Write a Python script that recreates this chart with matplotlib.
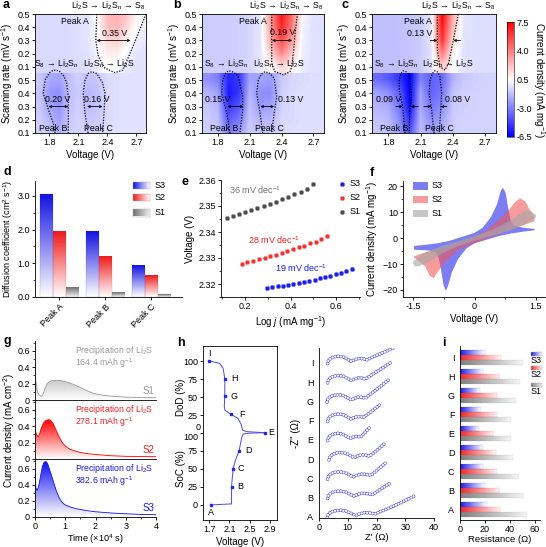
import numpy as np
import matplotlib
matplotlib.use('Agg')
import matplotlib.pyplot as plt
from matplotlib.colors import LinearSegmentedColormap
from matplotlib.patches import Polygon, Rectangle
from matplotlib.lines import Line2D
from matplotlib.ticker import MultipleLocator

plt.rcParams['font.family'] = ['Liberation Sans', 'DejaVu Sans']
plt.rcParams['mathtext.fontset'] = 'custom'
plt.rcParams['mathtext.rm'] = 'Liberation Sans'
plt.rcParams['mathtext.it'] = 'Liberation Sans:italic'
plt.rcParams['mathtext.bf'] = 'Liberation Sans:bold'
plt.rcParams['font.size'] = 6.5
plt.rcParams['axes.linewidth'] = 0.6
for k in ['xtick', 'ytick']:
    plt.rcParams[k + '.major.width'] = 0.6
    plt.rcParams[k + '.minor.width'] = 0.5
    plt.rcParams[k + '.major.size'] = 2.2
    plt.rcParams[k + '.minor.size'] = 1.3
    plt.rcParams[k + '.major.pad'] = 1.5
    plt.rcParams[k + '.labelsize'] = 6.5
plt.rcParams['axes.labelsize'] = 7
plt.rcParams['axes.labelpad'] = 2

W, H = 546, 547
BLUE = '#1c1ce8'
RED = '#f02020'
GRAY = '#8a8a8a'

LI2S = r'Li$\mathregular{_2}$S'
LI2SN = r'Li$\mathregular{_2}$S$\mathregular{_n}$'
S8 = r'S$\mathregular{_8}$'
INV = r'$\mathregular{^{-1}}$'

# a-c : current density maps, rows = 0.5..0.1 (anodic) then 0.5..0.1 (cathodic)
map_volt = [1.7, 1.8, 1.9, 2.0, 2.1, 2.2, 2.3, 2.4, 2.5, 2.6, 2.7, 2.8]
rate_labels = ['0.5', '0.4', '0.3', '0.2', '0.1'] * 2

a_top = [[-0.5, -0.5, -0.5, -0.5, -0.4, -0.2, 0.6, 2.4, 2.8, 2.2, 1.0, 0.3],
         [-0.5, -0.5, -0.5, -0.5, -0.4, -0.2, 0.5, 2.2, 2.5, 1.6, 0.5, 0.0],
         [-0.5, -0.5, -0.5, -0.5, -0.4, -0.2, 0.4, 1.6, 1.8, 0.9, 0.1, -0.2],
         [-0.5, -0.5, -0.5, -0.5, -0.4, -0.3, 0.2, 1.0, 1.0, 0.3, -0.2, -0.3],
         [-0.6, -0.6, -0.6, -0.6, -0.5, -0.4, 0.0, 0.5, 0.4, -0.1, -0.3, -0.3]]
a_bot = [[-1.0, -1.8, -2.0, -1.2, -0.8, -1.2, -1.0, -0.5, -0.4, -0.3, -0.3, -0.3],
         [-1.1, -2.3, -2.6, -1.3, -0.9, -1.5, -1.2, -0.5, -0.4, -0.3, -0.3, -0.3],
         [-1.0, -2.0, -2.5, -1.2, -0.8, -1.3, -1.1, -0.5, -0.4, -0.3, -0.3, -0.3],
         [-0.8, -1.5, -2.1, -1.0, -0.7, -1.0, -0.9, -0.5, -0.4, -0.3, -0.3, -0.3],
         [-0.7, -1.0, -1.6, -0.9, -0.6, -0.8, -0.7, -0.4, -0.3, -0.3, -0.3, -0.3]]
b_top = [[-0.9, -0.9, -0.9, -0.8, -0.6, -0.2, 3.5, 7.0, 4.5, 0.3, -0.3, -0.4],
         [-0.9, -0.9, -0.9, -0.8, -0.6, -0.2, 3.2, 6.5, 4.0, 0.2, -0.3, -0.4],
         [-0.9, -0.9, -0.9, -0.8, -0.6, -0.2, 2.8, 5.5, 3.2, 0.1, -0.3, -0.4],
         [-0.9, -0.9, -0.9, -0.8, -0.6, -0.2, 1.8, 3.8, 2.0, 0.0, -0.3, -0.4],
         [-0.9, -0.9, -0.9, -0.8, -0.6, -0.2, 0.6, 1.5, 0.9, -0.1, -0.3, -0.4]]
b_bot = [[-2.5, -3.0, -5.5, -5.0, -2.0, -2.0, -2.2, -1.0, -0.6, -0.5, -0.4, -0.4],
         [-1.5, -2.0, -5.8, -5.0, -1.5, -2.6, -2.6, -0.8, -0.5, -0.4, -0.4, -0.4],
         [-1.0, -1.5, -5.0, -4.2, -1.2, -2.3, -2.1, -0.7, -0.5, -0.4, -0.4, -0.4],
         [-0.9, -1.2, -4.0, -3.2, -1.0, -1.6, -1.4, -0.6, -0.5, -0.4, -0.4, -0.4],
         [-0.8, -1.0, -3.0, -2.2, -0.9, -1.1, -1.0, -0.5, -0.4, -0.4, -0.4, -0.4]]
c_top = [[-1.2, -1.2, -1.2, -1.1, -0.9, -0.2, 7.5, 3.0, -0.2, -0.4, -0.4, -0.4],
         [-1.2, -1.2, -1.2, -1.1, -0.9, -0.2, 7.0, 2.4, -0.2, -0.4, -0.4, -0.4],
         [-1.2, -1.2, -1.2, -1.1, -0.9, -0.2, 6.2, 1.6, -0.3, -0.4, -0.4, -0.4],
         [-1.2, -1.2, -1.2, -1.1, -0.9, -0.3, 4.2, 0.9, -0.3, -0.4, -0.4, -0.4],
         [-1.2, -1.2, -1.2, -1.1, -0.9, -0.3, 1.8, 0.6, -0.3, -0.4, -0.4, -0.4]]
c_bot = [[-3.5, -4.0, -5.0, -6.5, -3.0, -3.8, -3.6, -1.6, -1.0, -0.8, -0.7, -0.7],
         [-2.0, -2.5, -3.8, -6.5, -2.0, -3.8, -3.2, -1.1, -0.8, -0.7, -0.7, -0.7],
         [-1.5, -1.8, -3.2, -6.2, -1.8, -3.3, -2.6, -1.0, -0.8, -0.7, -0.7, -0.7],
         [-1.2, -1.4, -2.6, -5.2, -1.5, -2.6, -2.0, -0.9, -0.7, -0.7, -0.7, -0.7],
         [-1.0, -1.2, -2.2, -4.2, -1.3, -2.0, -1.6, -0.8, -0.7, -0.7, -0.7, -0.7]]

# dotted peak outlines (voltage, row)
a_lines = [([2.29, 2.285, 2.28, 2.306, 2.375, 2.479, 2.56, 2.65, 2.72, 2.8],
            [0, 1.0, 2.0, 3.2, 4.1, 4.44, 4.24, 2.72, 1.46, 0]),
           ([1.857, 1.84, 1.79, 1.736, 1.754, 1.80, 1.84, 1.90, 1.95, 1.978, 1.995, 1.995, 1.995],
            [9, 8.27, 7.26, 6.0, 5.0, 4.45, 4.24, 4.3, 4.7, 5.24, 6.3, 7.26, 9]),
           ([2.2, 2.168, 2.15, 2.168, 2.20, 2.237, 2.29, 2.35, 2.375, 2.365, 2.35],
            [9, 7.5, 6.0, 5.0, 4.5, 4.36, 4.5, 5.2, 6.0, 7.5, 9])]
b_lines = [([2.307, 2.307, 2.307, 2.338, 2.416, 2.48, 2.495, 2.515, 2.527, 2.55],
            [0, 2.0, 3.73, 4.36, 4.6, 4.36, 4.0, 2.7, 1.46, 0]),
           ([1.914, 1.883, 1.836, 1.845, 1.87, 1.898, 1.95, 1.992, 2.034, 2.034, 2.008],
            [9, 7.5, 6.0, 5.0, 4.5, 4.29, 4.4, 4.74, 6.25, 7.26, 9]),
           ([2.222, 2.197, 2.166, 2.18, 2.21, 2.244, 2.29, 2.33, 2.354, 2.33, 2.307],
            [9, 7.5, 6.0, 5.0, 4.55, 4.36, 4.5, 4.86, 6.25, 7.5, 9])]
c_lines = [([2.256, 2.256, 2.28, 2.327, 2.36, 2.404, 2.45],
            [0, 2.72, 4.0, 4.24, 3.73, 2.0, 0]),
           ([1.956, 1.935, 1.903, 1.903, 1.92, 1.94, 1.975, 2.0, 2.018, 2.0, 1.996],
            [9, 7.0, 5.8, 5.0, 4.5, 4.29, 4.4, 4.74, 6.25, 7.26, 9]),
           ([2.225, 2.203, 2.18, 2.188, 2.21, 2.234, 2.26, 2.28, 2.296, 2.287, 2.274],
            [9, 7.26, 6.0, 5.0, 4.5, 4.29, 4.4, 4.74, 6.0, 7.26, 9])]

cbar_ticks = [7.5, 4.0, 0.5, -3.0, -6.5]

# d : diffusion coefficient
d_cats = ['Peak A', 'Peak B', 'Peak C']
d_s3 = [3.05, 1.93, 0.93]
d_s2 = [1.93, 1.20, 0.63]
d_s1 = [0.27, 0.12, 0.08]

# e : Tafel
e_s1_x = [0.12, 0.147, 0.174, 0.201, 0.228, 0.255, 0.282, 0.309, 0.336, 0.363, 0.39, 0.417, 0.444, 0.471, 0.498]
e_s1_y = [2.3455, 2.3462, 2.3468, 2.3476, 2.3484, 2.3491, 2.3500, 2.3508, 2.3517, 2.3526, 2.3535, 2.3545,
          2.3555, 2.3566, 2.3583]
e_s2_x = [0.186, 0.211, 0.236, 0.261, 0.286, 0.311, 0.336, 0.361, 0.386, 0.411, 0.436, 0.461, 0.486, 0.511,
          0.536, 0.559]
e_s2_y = [2.3277, 2.3283, 2.3289, 2.3295, 2.3301, 2.3307, 2.3313, 2.3320, 2.3327, 2.3334, 2.3341, 2.3348,
          2.3356, 2.3363, 2.3372, 2.3385]
e_s3_x = [0.298, 0.321, 0.344, 0.367, 0.390, 0.413, 0.436, 0.459, 0.483, 0.506, 0.529, 0.552, 0.575, 0.598,
          0.622, 0.645, 0.669]
e_s3_y = [2.3185, 2.3188, 2.3191, 2.3194, 2.3197, 2.3201, 2.3205, 2.3209, 2.3213, 2.3217, 2.3222, 2.3227,
          2.3232, 2.3238, 2.3244, 2.3250, 2.3257]

# f : symmetric cell CV loops
cv_s3_v = [-1.48, -1.2, -0.9, -0.6, -0.3, 0.0, 0.2, 0.4, 0.55, 0.65, 0.7, 0.76, 0.82, 0.88, 0.95, 1.1, 1.3, 1.47,
           1.47, 1.2, 0.9, 0.6, 0.3, 0.0, -0.2, -0.4, -0.55, -0.65, -0.7, -0.76, -0.82, -0.88, -0.95, -1.1, -1.3, -1.48]
cv_s3_i = [-3.0, -2.6, -2.0, -1.0, 0.5, 2.0, 4.0, 8.0, 13.0, 18.5, 19.3, 17.5, 12.0, 7.0, 5.0, 4.3, 3.8, 3.5,
           3.0, 2.5, 1.8, 0.8, -0.6, -2.0, -4.0, -8.0, -13.0, -18.5, -20.3, -18.0, -12.0, -7.5, -5.5, -4.8, -4.6, -4.5]
cv_s2_v = [-1.48, -1.2, -0.8, -0.4, 0.0, 0.3, 0.6, 0.85, 1.0, 1.12, 1.25, 1.35, 1.47,
           1.47, 1.2, 0.9, 0.5, 0.0, -0.4, -0.7, -0.9, -1.0, -1.1, -1.2, -1.35, -1.48]
cv_s2_i = [-7.0, -5.5, -4.0, -2.0, 0.5, 3.0, 7.0, 11.0, 14.0, 15.3, 14.0, 11.0, 8.0,
           6.5, 5.0, 3.5, 1.0, -2.0, -4.5, -9.0, -13.0, -15.5, -14.5, -11.0, -9.0, -7.5]
cv_s1_v = [-1.5, -1.2, -0.8, -0.4, 0.0, 0.4, 0.8, 1.1, 1.27, 1.4, 1.5,
           1.5, 1.2, 0.8, 0.4, 0.0, -0.4, -0.8, -1.1, -1.3, -1.45, -1.5]
cv_s1_i = [-9.0, -5.5, -3.0, -1.2, 0.8, 3.0, 6.0, 9.0, 10.8, 10.2, 9.0,
           8.0, 5.0, 2.5, 0.8, -1.0, -3.0, -6.0, -9.0, -10.5, -11.0, -10.0]

# g : Li2S deposition
g_s1_t = [0, 0.03, 0.08, 0.14, 0.2, 0.26, 0.32, 0.4, 0.5, 0.6, 0.7, 0.85, 1.0, 1.2, 1.4, 1.6, 1.8, 2.0, 2.3, 2.6,
          3.0, 3.5, 4.0]
g_s1_i = [0.45, 0.22, 0.1, 0.06, 0.045, 0.06, 0.13, 0.2, 0.23, 0.24, 0.24, 0.235, 0.225, 0.2, 0.17, 0.135, 0.1,
          0.075, 0.055, 0.045, 0.035, 0.03, 0.028]
g_s2_t = [0, 0.05, 0.1, 0.15, 0.2, 0.28, 0.36, 0.45, 0.52, 0.6, 0.7, 0.8, 0.9, 1.0, 1.15, 1.3, 1.5, 1.75, 2.0, 2.5,
          3.0, 3.5, 4.0]
g_s2_i = [0.36, 0.3, 0.27, 0.3, 0.37, 0.44, 0.47, 0.48, 0.47, 0.43, 0.35, 0.27, 0.2, 0.16, 0.12, 0.1, 0.08, 0.065,
          0.055, 0.04, 0.033, 0.03, 0.028]
g_s3_t = [0, 0.03, 0.07, 0.12, 0.18, 0.24, 0.3, 0.36, 0.42, 0.5, 0.6, 0.7, 0.8, 0.9, 1.0, 1.2, 1.4, 1.7, 2.0, 2.5,
          3.0, 3.5, 4.0]
g_s3_i = [0.56, 0.36, 0.33, 0.38, 0.5, 0.62, 0.68, 0.69, 0.66, 0.57, 0.45, 0.33, 0.24, 0.18, 0.15, 0.12, 0.1, 0.08,
          0.065, 0.05, 0.04, 0.032, 0.028]
g_caps = ['164.4', '278.1', '382.6']

# h : charge / discharge states and impedance spectra
soc_volt = [1.747, 2.143, 2.143, 2.143, 2.174, 2.22, 2.293, 2.34, 2.37, 2.5, 2.80]
soc_val = [0, 1.4, 5, 25.5, 50.5, 62, 75.5, 92.6, 98.6, 99.8, 100.4]
dod_volt = [2.80, 2.44, 2.36, 2.34, 2.27, 2.129, 2.01, 2.0, 2.01, 2.01, 1.977, 1.91, 1.70]
dod_val = [0.4, 1.9, 4, 11, 20.4, 26, 32, 37, 51.4, 75.4, 90, 96.8, 100.4]
state_names = ['A', 'B', 'C', 'D', 'E', 'F', 'G', 'H', 'I']
state_volt = [1.747, 2.143, 2.174, 2.293, 2.80, 2.129, 2.01, 2.01, 1.70]
state_pos = [0, 25.5, 50.5, 75.5, 100.4, 126, 151.4, 175.4, 200.4]

eis_re = [[2.9, 3.2, 4.0, 5.4, 7.4, 9.4, 11.2, 12.2, 13.0, 14.0, 15.8, 17.6, 19.4, 23.0, 26.5, 30.0, 33.5],
          [3.0, 3.3, 4.1, 5.4, 7.3, 9.2, 10.8, 11.7, 12.3, 13.2, 14.9, 16.8, 18.5, 20.5, 22.6, 24.7],
          [3.0, 3.3, 4.1, 5.4, 7.2, 9.0, 10.6, 11.4, 12.0, 12.9, 14.6, 16.4, 18.0, 19.8, 21.7, 23.5],
          [3.5, 3.8, 4.6, 5.9, 7.6, 9.3, 10.9, 11.8, 12.4, 13.2, 14.7, 16.2, 17.5, 19.2, 20.9, 22.6],
          [3.0, 3.3, 4.0, 5.2, 6.7, 8.2, 9.6, 10.4, 11.0, 11.8, 12.9, 13.9, 14.5, 15.6, 16.7, 17.8],
          [3.0, 3.3, 4.0, 5.3, 6.9, 8.5, 10.0, 10.8, 11.3, 12.1, 13.4, 14.6, 15.3, 17.4, 19.4, 21.5],
          [2.8, 3.1, 3.9, 5.2, 6.9, 8.5, 10.0, 10.8, 11.3, 12.2, 13.7, 15.1, 16.0, 18.7, 21.4, 24.1],
          [3.0, 3.3, 4.1, 5.4, 7.0, 8.6, 10.0, 10.8, 11.3, 12.2, 13.7, 15.1, 16.0, 19.1, 22.2, 25.3],
          [3.0, 3.3, 4.1, 5.4, 7.0, 8.6, 10.0, 10.8, 11.3, 12.3, 13.9, 15.5, 16.5, 19.6, 22.8, 26.0]]
eis_im = [[0.0, 1.1, 1.9, 2.4, 2.6, 2.3, 1.5, 1.0, 0.8, 1.3, 1.8, 1.7, 1.3, 2.8, 4.3, 6.0, 7.8],
          [0.0, 1.1, 1.9, 2.4, 2.6, 2.3, 1.5, 1.0, 0.8, 1.3, 1.8, 1.7, 1.3, 2.6, 4.0, 5.3],
          [0.0, 1.1, 1.9, 2.4, 2.6, 2.3, 1.5, 1.0, 0.8, 1.3, 1.8, 1.7, 1.3, 2.8, 4.4, 6.0],
          [0.0, 1.1, 1.9, 2.4, 2.6, 2.3, 1.5, 1.0, 0.8, 1.3, 1.8, 1.7, 1.3, 2.6, 4.0, 5.5],
          [0.0, 1.1, 1.9, 2.4, 2.6, 2.3, 1.5, 1.0, 0.8, 1.2, 1.5, 1.4, 1.3, 2.4, 3.6, 4.9],
          [0.0, 1.1, 1.9, 2.4, 2.6, 2.3, 1.5, 1.0, 0.8, 1.3, 1.7, 1.6, 1.3, 2.8, 4.4, 6.0],
          [0.0, 1.1, 1.9, 2.4, 2.6, 2.3, 1.5, 1.0, 0.8, 1.3, 1.8, 1.7, 1.3, 3.4, 5.5, 7.7],
          [0.0, 1.1, 1.9, 2.4, 2.6, 2.3, 1.5, 1.0, 0.8, 1.3, 1.8, 1.7, 1.3, 3.3, 5.3, 7.3],
          [0.0, 1.1, 1.9, 2.4, 2.6, 2.3, 1.5, 1.0, 0.8, 1.3, 1.8, 1.7, 1.3, 2.7, 4.1, 5.5]]

# i : resistance at each state
i_s3 = [21.3, 20.0, 18.1, 18.1, 15.2, 16.5, 16.0, 18.1, 20.0]
i_s2 = [32.0, 31.5, 29.3, 28.8, 26.7, 29.3, 29.9, 31.5, 32.5]
i_s1 = [53.3, 50.7, 46.7, 42.1, 40.5, 40.5, 44.8, 48.0, 50.1]


def pax(fig, l, t, r, b):
    return fig.add_axes([l / W, 1 - b / H, (r - l) / W, (b - t) / H])


def ftext(fig, x, y, s, **kw):
    fig.text(x / W, 1 - y / H, s, **kw)


def grad(ax, x0, x1, y0, y1, c0, c1, vertical=True, clip=None, z=2):
    cm = LinearSegmentedColormap.from_list('grad', [c0, c1])
    ramp = np.linspace(0, 1, 64)
    arr = ramp.reshape(-1, 1) if vertical else ramp.reshape(1, -1)
    im = ax.imshow(arr, cmap=cm, extent=(x0, x1, y0, y1), origin='lower', aspect='auto',
                   interpolation='bilinear', zorder=z)
    if clip is not None:
        im.set_clip_path(clip)
    return im


def swatch(fig, l, t, r, b, c0, c1):
    sax = pax(fig, l, t, r, b)
    grad(sax, 0, 1, 0, 1, c0, c1, vertical=False)
    sax.set_xlim(0, 1)
    sax.set_ylim(0, 1)
    sax.set_xticks([])
    sax.set_yticks([])
    for s in sax.spines.values():
        s.set_linewidth(0.3)
        s.set_color('#aaaaaa')


def open_axes(ax):
    ax.spines['top'].set_visible(False)
    ax.spines['right'].set_visible(False)


def heat_panel(ax, top, bot, lines, notes, arrows):
    for grid, ext in ((top, (1.65, 2.85, 4.5, -0.5)), (bot, (1.65, 2.85, 9.5, 4.5))):
        im = ax.imshow(grid, cmap='bwr', vmin=-6.5, vmax=7.5, extent=ext, aspect='auto',
                       interpolation='bilinear')
    for vx, vy in lines:
        ax.plot(vx, vy, color='k', lw=0.9, ls=(0, (1, 1.2)))
    for x, y, s in notes:
        ax.text(x, y, s, ha='center', va='center', fontsize=6.3)
    for x0, x1, y, st in arrows:
        ax.annotate('', xy=(x1, y), xytext=(x0, y),
                    arrowprops=dict(arrowstyle=st, lw=0.6, color='k', shrinkA=0, shrinkB=0, mutation_scale=4))
    ax.set_xlim(1.65, 2.8)
    ax.set_ylim(9, 0)
    ax.set_xticks([1.8, 2.1, 2.4, 2.7])
    ax.set_yticks(range(10))
    ax.set_yticklabels(rate_labels)
    ax.set_xlabel('Voltage (V)')
    ax.set_ylabel('Scanning rate (mV s' + INV + ')')
    ax.text(1.0, 1.015, LI2S + ' → ' + LI2SN + ' → ' + S8, transform=ax.transAxes,
            ha='right', va='bottom', fontsize=6.3)
    return im


fig = plt.figure(figsize=(W / 100, H / 100), dpi=100)

# ---- a, b, c
red_txt = S8 + ' → ' + LI2SN
blu_txt = LI2SN + ' → ' + LI2S
ax = pax(fig, 35, 14, 146, 133)
heat_panel(ax, a_top, a_bot, a_lines,
           [(2.064, 0.58, 'Peak A'), (2.479, 1.46, '0.35 V'), (1.875, 3.75, red_txt), (2.42, 3.75, blu_txt),
            (1.883, 6.5, '0.20 V'), (2.289, 6.5, '0.16 V'), (1.84, 8.65, 'Peak B'), (2.306, 8.65, 'Peak C')],
           [(2.29, 2.64, 2.0, '<->'), (1.79, 1.995, 7.0, '<->'), (2.19, 2.35, 7.0, '<->')])
ax = pax(fig, 202, 14, 324, 133)
heat_panel(ax, b_top, b_bot, b_lines,
           [(2.126, 0.58, 'Peak A'), (2.409, 1.42, '0.19 V'), (1.88, 3.75, red_txt), (2.376, 3.75, blu_txt),
            (1.796, 6.5, '0.15 V'), (2.487, 6.5, '0.13 V'), (1.856, 8.65, 'Peak B'), (2.283, 8.65, 'Peak C')],
           [(2.31, 2.50, 2.0, '<->'), (1.89, 2.04, 7.0, '<->'), (2.20, 2.33, 7.0, '<->')])
ax = pax(fig, 372, 14, 496, 133)
im = heat_panel(ax, c_top, c_bot, c_lines,
                [(2.079, 0.58, 'Peak A'), (2.088, 1.46, '0.13 V'), (1.879, 3.75, red_txt), (2.355, 3.75, blu_txt),
                 (1.80, 6.5, '0.09 V'), (2.443, 6.5, '0.08 V'), (1.856, 8.65, 'Peak B'), (2.273, 8.65, 'Peak C')],
                [(2.19, 2.256, 2.0, '->'), (2.47, 2.404, 2.0, '->'), (1.87, 1.935, 7.0, '->'),
                 (2.08, 2.01, 7.0, '->'), (2.13, 2.20, 7.0, '->'), (2.345, 2.285, 7.0, '->')])
cax = pax(fig, 507, 22, 514, 137)
cb = fig.colorbar(im, cax=cax, ticks=cbar_ticks)
cb.outline.set_linewidth(0.4)
cax.set_yticklabels(['%.1f' % v for v in cbar_ticks])
cax.tick_params(length=0, pad=2)
ftext(fig, 539, 80, 'Current density (mA mg' + INV + ')', rotation=270, ha='center', va='center', fontsize=7)

# ---- d
ax = pax(fig, 35, 181, 182, 297)
open_axes(ax)
d_cols = [(d_s3, '#1414e0', 'white'), (d_s2, '#ee1c1c', 'white'), (d_s1, '#707070', '#f4f4f4')]
for k, (vals, top_c, bot_c) in enumerate(d_cols):
    for xi, v in enumerate(vals):
        x0 = xi + (k - 1) * 0.277 - 0.1385
        grad(ax, x0, x0 + 0.277, 0, v, bot_c, top_c)
        ax.add_patch(Rectangle((x0, 0), 0.277, v, fill=False, ec=top_c, lw=0.3, alpha=0.35, zorder=3))
ax.set_xlim(-0.53, 2.67)
ax.set_ylim(0, 3.44)
ax.set_xticks(range(3))
ax.set_xticklabels(d_cats, rotation=45, ha='right', rotation_mode='anchor')
ax.set_yticks([0, 1, 2, 3])
ax.set_yticklabels(['0.0', '1.0', '2.0', '3.0'])
ax.yaxis.set_minor_locator(MultipleLocator(0.5))
ax.set_ylabel('Diffusion coefficient (cm$\\mathregular{^2}$ s' + INV + ')', fontsize=6.5)
for name, c0, c1, t, b in [('S3', '#1414e0', 'white', 181.5, 189), ('S2', '#ee1c1c', 'white', 193.5, 201),
                           ('S1', '#707070', '#f0f0f0', 208.5, 216.5)]:
    swatch(fig, 133, t, 150, b, c0, c1)
    ftext(fig, 155, (t + b) / 2, name, va='center', fontsize=6.5)

# ---- e
ax = pax(fig, 221, 180, 360, 297)
open_axes(ax)
e_sets = [(e_s1_x, e_s1_y, '#4a4a4a', '#a0a0a0'), (e_s2_x, e_s2_y, '#f03030', '#ff9a9a'),
          (e_s3_x, e_s3_y, '#1c1ce0', '#8080ff')]
for xs, ys, c, ec in e_sets:
    ax.plot(xs, ys, 'o', ls='none', ms=3.2, mfc=c, mec=ec, mew=0.5)
ax.text(0.13, 2.3561, '36 mV dec' + INV, color='#707070', fontsize=6.5, va='center')
ax.text(0.213, 2.3369, '28 mV dec' + INV, color=RED, fontsize=6.5, va='center')
ax.text(0.334, 2.3262, '19 mV dec' + INV, color=BLUE, fontsize=6.5, va='center')
ax.set_xlim(0.095, 0.705)
ax.set_ylim(2.315, 2.36)
ax.set_xticks([0.2, 0.4, 0.6])
ax.set_yticks([2.32, 2.33, 2.34, 2.35, 2.36])
ax.xaxis.set_minor_locator(MultipleLocator(0.1))
ax.yaxis.set_minor_locator(MultipleLocator(0.005))
ax.set_xlabel('Log $\\mathit{j}$ (mA mg' + INV + ')')
ax.set_ylabel('Voltage (V)')
for name, c, ec, y in [('S3', '#1c1ce0', '#8080ff', 184), ('S2', '#f03030', '#ff9a9a', 198),
                       ('S1', '#4a4a4a', '#a0a0a0', 212)]:
    fig.add_artist(Line2D([342 / W], [1 - y / H], marker='o', ms=3.2, mfc=c, mec=ec, mew=0.5,
                          transform=fig.transFigure))
    ftext(fig, 350, y, name, va='center', fontsize=6.5)

# ---- f
ax = pax(fig, 403, 181, 546, 297)
open_axes(ax)
f_sets = [(cv_s3_v, cv_s3_i, '#5050f0', 0.75), (cv_s2_v, cv_s2_i, '#f05a5a', 0.6),
          (cv_s1_v, cv_s1_i, '#a8a8a8', 0.65)]
for vs, cs, c, al in f_sets:
    ax.fill(vs, cs, color=c, alpha=al, lw=0)
ax.set_xlim(-1.75, 1.75)
ax.set_ylim(-22.7, 22)
ax.set_xticks([-1.5, 0, 1.5])
ax.set_xticklabels(['-1.5', '0', '1.5'])
ax.set_yticks([-20, -10, 0, 10, 20])
ax.xaxis.set_minor_locator(MultipleLocator(0.75))
ax.yaxis.set_minor_locator(MultipleLocator(5))
ax.set_xlabel('Voltage (V)')
ax.set_ylabel('Current density (mA mg' + INV + ')')
for name, c, al, t in [('S3', '#5050f0', 0.75, 182), ('S2', '#f05a5a', 0.6, 195.5), ('S1', '#a8a8a8', 0.65, 209.5)]:
    fig.patches.append(Rectangle((413 / W, 1 - (t + 7.5) / H), 15 / W, 7.5 / H, color=c, alpha=al,
                                 lw=0, transform=fig.transFigure))
    ftext(fig, 432, t + 3.7, name, va='center', fontsize=6.5)

# ---- g
g_sets = [(g_s1_t, g_s1_i, '#9a9a9a', '#9a9a9a', 'S1', 341, 400),
          (g_s2_t, g_s2_i, '#ff0000', RED, 'S2', 400, 459),
          (g_s3_t, g_s3_i, '#1010f0', BLUE, 'S3', 459, 517)]
for n, (ts, cur, fc, tc, name, t, b) in enumerate(g_sets):
    ax = pax(fig, 35, t, 156, b)
    open_axes(ax)
    ax.patch.set_alpha(0)
    poly = Polygon(list(zip([ts[0]] + ts + [ts[-1]], [0] + cur + [0])), closed=True, fc='none', ec='none')
    ax.add_patch(poly)
    grad(ax, 0, 4, 0, max(cur), 'white', fc, clip=poly)
    ax.plot(ts, cur, color=fc, lw=0.6)
    ax.text(1.32, 0.6, 'Precipitation of ' + LI2S, color=tc, fontsize=6.3, va='center')
    ax.text(1.32, 0.445, g_caps[n] + ' mAh g' + INV, color=tc, fontsize=6.3, va='center')
    ax.text(3.95, 0.11, name, color=tc, fontsize=7, ha='right', va='center')
    ax.set_xlim(0, 4)
    ax.set_ylim(0, 0.72)
    ax.set_yticks([0, 0.2, 0.4, 0.6])
    ax.set_yticklabels(['0', '0.2', '0.4', '0.6'])
    ax.yaxis.set_minor_locator(MultipleLocator(0.1))
    ax.set_xticks([0, 1, 2, 3, 4])
    if name == 'S3':
        ax.xaxis.set_minor_locator(MultipleLocator(0.5))
    else:
        ax.tick_params(axis='x', length=0, labelbottom=False)
ftext(fig, 95, 539.5, 'Time (×10$\\mathregular{^4}$ s)', ha='center', va='center', fontsize=6.6)
ftext(fig, 9, 430, 'Current density (mA cm$\\mathregular{^{-2}}$)', rotation=90, ha='center', va='center',
      fontsize=7)

# ---- h (left): states of charge
ax = pax(fig, 203, 346, 277, 520)
ax.plot(soc_volt, soc_val, color='#4a4ae6', lw=0.7)
ax.plot(dod_volt, [100 + v for v in dod_val], color='#4a4ae6', lw=0.7)
ax.plot(state_volt, state_pos, 's', ls='none', ms=1.8, color='#2828e0')
lab_off = [(0.0, -11), (0.17, 0), (0.16, 0), (0.18, 0), (0.12, 0), (0.23, 0), (0.19, 0), (0.19, 0), (0.0, 10)]
for s, v, p, (dx, dy) in zip(state_names, state_volt, state_pos, lab_off):
    ax.text(v + dx, p + dy, s, ha='center', va='center', fontsize=6.5)
ax.set_xlim(1.58, 3.04)
ax.set_ylim(-21, 221)
ax.set_xticks([1.7, 2.1, 2.5, 2.9])
ax.set_yticks([0, 25, 50, 75, 100, 125, 150, 175, 200])
ax.set_yticklabels(['0', '25', '50', '75', '100', '25', '50', '75', '100'])
ax.get_yticklabels()[4].set_va('top')
ax.text(-0.03, 102, '0', transform=ax.get_yaxis_transform(), ha='right', va='bottom', fontsize=6.5)
ax.set_xlabel('Voltage (V)')
ftext(fig, 181, 397, 'DoD (%)', rotation=90, ha='center', va='center', fontsize=7)
ftext(fig, 181, 469, 'SoC (%)', rotation=90, ha='center', va='center', fontsize=7)

# ---- h (right): impedance spectra, stacked
ax = pax(fig, 319, 348, 434, 518)
open_axes(ax)
step = 6.73
gap = 2.0
for k, (re, imz) in enumerate(zip(eis_re, eis_im)):
    ys = [v + k * step - 0.3 for v in imz]
    ax.plot(re, ys, color='#5c5cdc', lw=2.6, ls=(0, (0.02 / 2.6, gap / 2.6)), dash_capstyle='round')
    ax.plot(re, ys, color='white', lw=1.7, ls=(0, (0.02 / 1.7, gap / 1.7)), dash_capstyle='round')
ax.set_xlim(0, 40)
ax.set_ylim(-0.4, 59)
ax.set_xticks([0, 10, 20, 30, 40])
ax.set_yticks([k * step for k in range(9)])
ax.set_yticklabels(state_names)
ax.tick_params(axis='y', length=0, pad=4)
ax.set_xlabel("Z' (Ω)", labelpad=0.5, fontsize=6.8)
ax.set_ylabel("-Z'' (Ω)", labelpad=4)

# ---- i
ax = pax(fig, 460, 346, 540, 520)
open_axes(ax)
i_cols = [(i_s3, 0.27, '#1c1ce8', 'white'), (i_s2, 0.0, '#f02828', '#fff4f4'), (i_s1, -0.27, '#808080', '#f6f6f6')]
for vals, off, c0, c1 in i_cols:
    for y, v in enumerate(vals):
        grad(ax, 0, v, y + off - 0.12, y + off + 0.12, c0, c1, vertical=False)
        ax.add_patch(Rectangle((0, y + off - 0.12), v, 0.24, fill=False, ec=c0, lw=0.3, alpha=0.3, zorder=3))
ax.set_xlim(0, 64)
ax.set_ylim(-0.56, 8.6)
ax.set_xticks([0, 20, 40, 60])
ax.set_yticks(range(9))
ax.set_yticklabels(state_names)
ax.tick_params(axis='y', length=0, pad=4)
ax.set_xlabel('Resistance (Ω)', labelpad=0.5, fontsize=6.8)
for name, c0, c1, t in [('S3', '#1c1ce8', 'white', 351.5), ('S2', '#f02828', '#fff0f0', 365.5),
                        ('S1', '#808080', '#f0f0f0', 382.5)]:
    swatch(fig, 531, t, 542, t + 4.5, c0, c1)
    ftext(fig, 536.5, t + 9, name, ha='center', va='center', fontsize=6.5)

# panel letters
for s, x, y in [('a', 3, 5), ('b', 173, 5), ('c', 342, 5), ('d', 3, 172), ('e', 181, 182),
                ('f', 370, 173), ('g', 4, 341), ('h', 177, 343), ('i', 442, 343)]:
    ftext(fig, x, y, s, fontsize=9, fontweight='bold', va='center')

fig.savefig('out.png', dpi=100)
